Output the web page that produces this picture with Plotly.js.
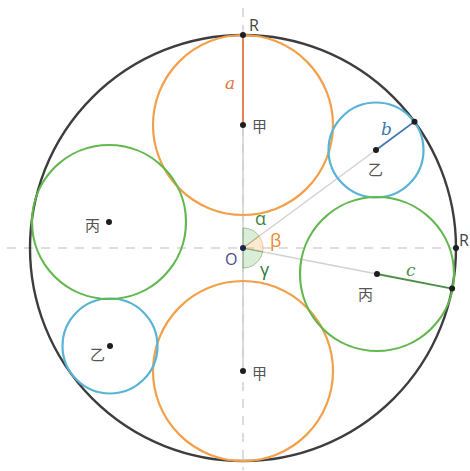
<!DOCTYPE html>
<html>
<head>
<meta charset="utf-8">
<script src="https://cdn.plot.ly/plotly-3.0.1.min.js"></script>
<style>html,body{margin:0;padding:0;background:#fff;}#chart{width:470px;height:471px;}</style>
</head>
<body>
<div id="chart"></div>
<script>
// ---- data (units: pixels of the original figure, origin at O, y up) ----
const bigRadius = 213;
const circleLabels = ['甲', '甲', '乙', '乙', '丙', '丙'];
const centerX = [0, 0, 133, -133, 134, -134];
const centerY = [123, -123, 98, -98, -26, 26];
const radii = [90, 90, 47.5, 47.5, 77, 77];
const radiusLabels = ['a', 'b', 'c'];
const radiusCircleIndex = [0, 2, 4];
const angleLabels = ['α', 'β', 'γ'];

// ---- styles ----
const circleColors = ['#f2a04a', '#f2a04a', '#57b4d4', '#57b4d4', '#62b84f', '#62b84f'];
const radiusColors = ['#e0783f', '#3f75b5', '#4a8f48'];
const sectorFills = ['rgba(120,190,120,0.28)', 'rgba(250,190,130,0.35)', 'rgba(120,190,120,0.28)'];
const sectorLines = ['rgba(90,160,90,0.6)', 'rgba(240,170,100,0.6)', 'rgba(90,160,90,0.6)'];
const angleColors = ['#3d8a3d', '#e88a2e', '#2f7a3a'];

const shapes = [];
const traces = [];
const annotations = [];

// dashed axes
shapes.push({type: 'line', xref: 'x', yref: 'y', x0: -236, x1: 222, y0: 0, y1: 0,
  line: {color: '#d4d4d4', width: 1.6, dash: '9px,8px'}, layer: 'below'});
shapes.push({type: 'line', xref: 'x', yref: 'y', x0: 0, x1: 0, y0: 240, y1: -222,
  line: {color: '#d4d4d4', width: 1.6, dash: '9px,8px'}, layer: 'below'});
// solid gray between the two 甲 centers
shapes.push({type: 'line', xref: 'x', yref: 'y', x0: 0, x1: 0, y0: centerY[0], y1: centerY[1],
  line: {color: '#cfcfcf', width: 1.5}, layer: 'below'});

// gray lines from O to centers
[2, 4].forEach(i => {
  shapes.push({type: 'line', xref: 'x', yref: 'y', x0: 0, y0: 0, x1: centerX[i], y1: centerY[i],
    line: {color: '#d2d2d2', width: 1.5}, layer: 'below'});
});

// angle sectors
const dirAngles = [90, Math.atan2(centerY[2], centerX[2]) * 180 / Math.PI,
  Math.atan2(centerY[4], centerX[4]) * 180 / Math.PI, -90];
const sr = 20;
for (let k = 0; k < 3; k++) {
  const a1 = dirAngles[k], a2 = dirAngles[k + 1];
  let p = 'M 0 0';
  const n = 30;
  for (let j = 0; j <= n; j++) {
    const t = (a1 + (a2 - a1) * j / n) * Math.PI / 180;
    p += ' L ' + (sr * Math.cos(t)).toFixed(2) + ' ' + (sr * Math.sin(t)).toFixed(2);
  }
  p += ' Z';
  shapes.push({type: 'path', xref: 'x', yref: 'y', path: p, fillcolor: sectorFills[k],
    line: {color: sectorLines[k], width: 1}, layer: 'below'});
}

// big circle
shapes.push({type: 'circle', xref: 'x', yref: 'y', x0: -bigRadius, x1: bigRadius, y0: -bigRadius, y1: bigRadius,
  line: {color: '#3d3d3d', width: 2.4}, layer: 'below'});

// inner circles
for (let i = 0; i < centerX.length; i++) {
  shapes.push({type: 'circle', xref: 'x', yref: 'y',
    x0: centerX[i] - radii[i], x1: centerX[i] + radii[i],
    y0: centerY[i] - radii[i], y1: centerY[i] + radii[i],
    line: {color: circleColors[i], width: 2.2}, layer: 'below'});
}

// radius segments a, b, c (from center outward to the big circle)
const tangentX = [], tangentY = [];
radiusCircleIndex.forEach((ci, k) => {
  const d = Math.hypot(centerX[ci], centerY[ci]);
  const tx = centerX[ci] / d * bigRadius, ty = centerY[ci] / d * bigRadius;
  tangentX.push(tx); tangentY.push(ty);
  shapes.push({type: 'line', xref: 'x', yref: 'y', x0: centerX[ci], y0: centerY[ci], x1: tx, y1: ty,
    line: {color: radiusColors[k], width: 1.8}, layer: 'below'});
});

// points
traces.push({type: 'scatter', mode: 'markers', hoverinfo: 'skip',
  x: centerX.concat(tangentX, [bigRadius]),
  y: centerY.concat(tangentY, [0]),
  marker: {color: '#1e1e1e', size: 6}});
traces.push({type: 'scatter', mode: 'markers', hoverinfo: 'skip', x: [0], y: [0],
  marker: {color: '#1f2250', size: 6}});

// labels
const cjkFont = {family: '"Noto Sans CJK SC", "Noto Sans", sans-serif', size: 15, color: '#555555'};
const labelOffsets = [[16, 0], [16, -1], [-1, -18], [-13, -7], [-12, -19], [-17, -2]];
circleLabels.forEach((t, i) => {
  annotations.push({x: centerX[i] + labelOffsets[i][0], y: centerY[i] + labelOffsets[i][1],
    xref: 'x', yref: 'y', text: t, showarrow: false, font: cjkFont});
});
const rFont = {family: '"Open Sans", "DejaVu Sans", sans-serif', size: 16, color: '#444444'};
annotations.push({x: 11, y: 223, xref: 'x', yref: 'y', text: 'R', showarrow: false, font: rFont});
annotations.push({x: 221, y: 8, xref: 'x', yref: 'y', text: 'R', showarrow: false, font: rFont});

const radiusLabelPos = [[-13, 165], [143, 119], [168, -22]];
radiusLabels.forEach((t, k) => {
  annotations.push({x: radiusLabelPos[k][0], y: radiusLabelPos[k][1], xref: 'x', yref: 'y',
    text: '<i>' + t + '</i>', showarrow: false,
    font: {family: '"DejaVu Serif", "Liberation Serif", serif', size: 17, color: radiusColors[k]}});
});

const angleLabelPos = [[17, 30], [32, 8], [22, -21]];
angleLabels.forEach((t, k) => {
  annotations.push({x: angleLabelPos[k][0], y: angleLabelPos[k][1], xref: 'x', yref: 'y',
    text: t, showarrow: false,
    font: {family: '"Open Sans", "DejaVu Sans", sans-serif', size: 18, color: angleColors[k]}});
});
annotations.push({x: -12, y: -11, xref: 'x', yref: 'y', text: 'O', showarrow: false,
  font: {family: '"Open Sans", "DejaVu Sans", sans-serif', size: 16, color: '#4a4a8c'}});

const layout = {
  width: 470, height: 471,
  margin: {l: 0, r: 0, t: 0, b: 0, pad: 0},
  paper_bgcolor: '#ffffff', plot_bgcolor: '#ffffff',
  showlegend: false,
  xaxis: {range: [-243, 227], visible: false, fixedrange: true},
  yaxis: {range: [-223, 248], visible: false, fixedrange: true},
  shapes: shapes,
  annotations: annotations
};

Plotly.newPlot('chart', traces, layout, {staticPlot: true, displayModeBar: false});
</script>
</body>
</html>
